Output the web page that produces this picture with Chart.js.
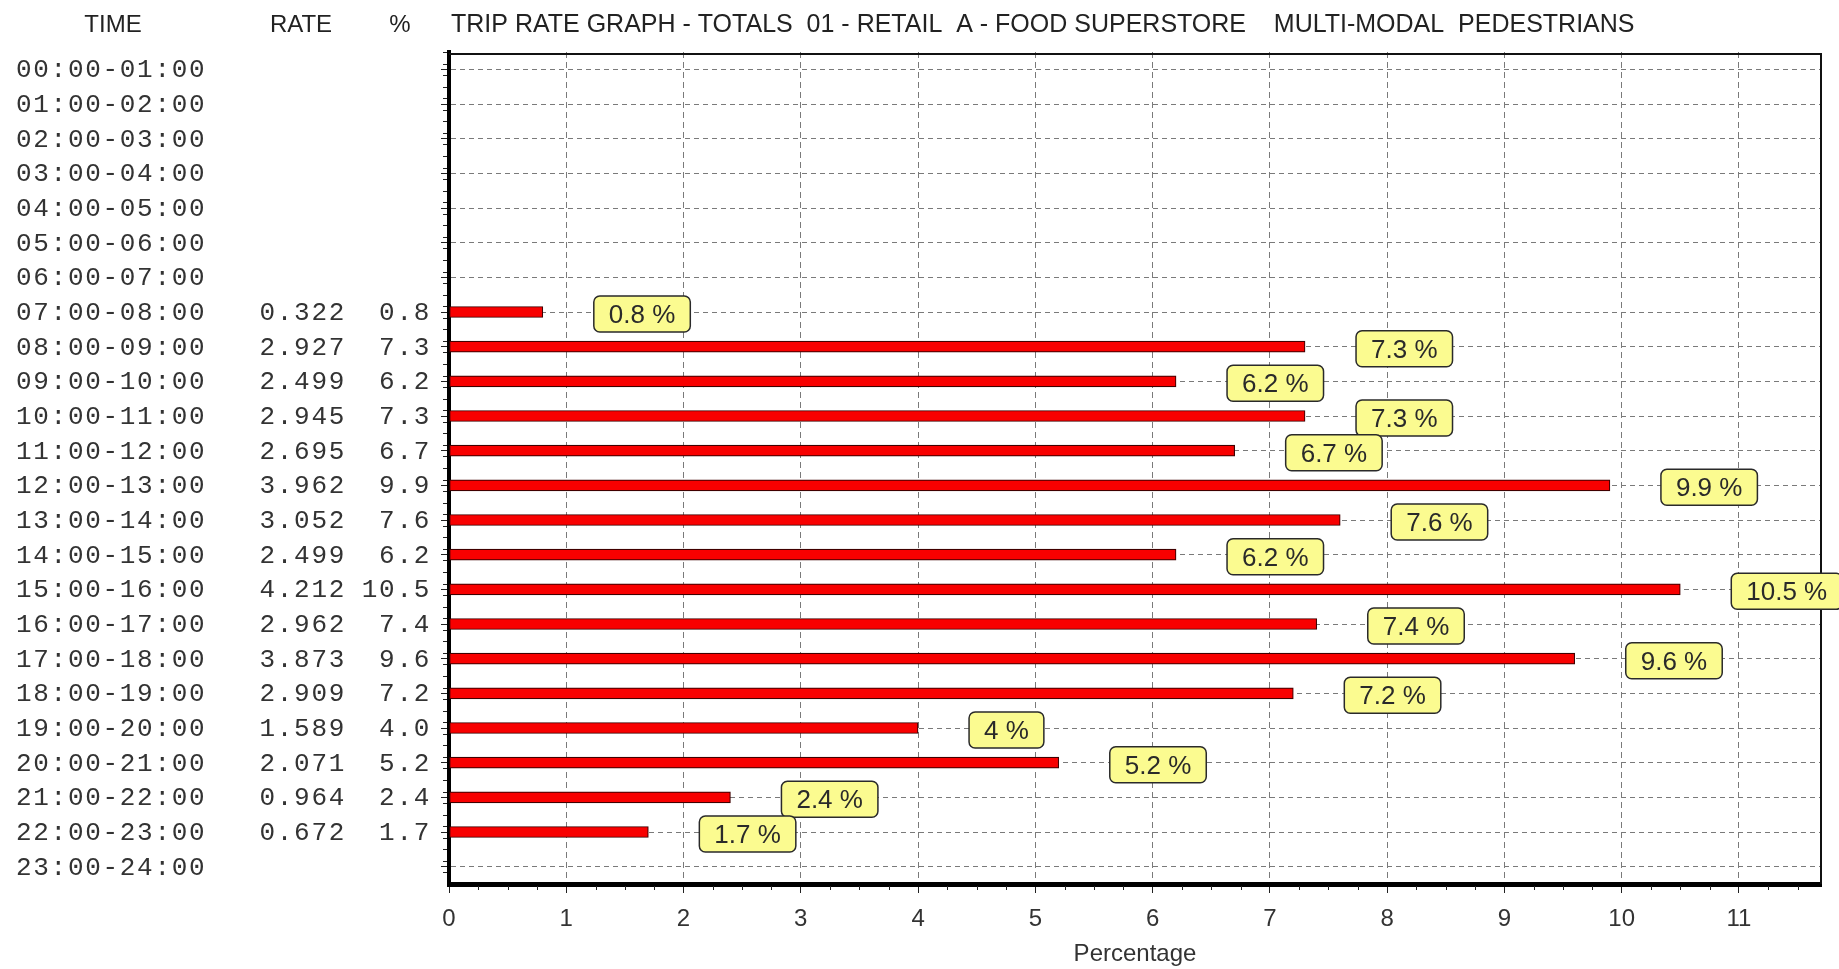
<!DOCTYPE html>
<html lang="en">
<head>
  <meta charset="UTF-8">
  <title>Trip Rate Graph - Multi-Modal Pedestrians</title>
  <script src="https://cdn.jsdelivr.net/npm/chart.js"></script>
  <style>
    html, body { margin: 0; padding: 0; background: #fff; }
    #grafico { display: block; }
  </style>
</head>
<body>
  <canvas id="grafico" width="1839" height="969"></canvas>

  <script>
    const horas = [
      '00:00-01:00', '01:00-02:00', '02:00-03:00', '03:00-04:00', '04:00-05:00', '05:00-06:00',
      '06:00-07:00', '07:00-08:00', '08:00-09:00', '09:00-10:00', '10:00-11:00', '11:00-12:00',
      '12:00-13:00', '13:00-14:00', '14:00-15:00', '15:00-16:00', '16:00-17:00', '17:00-18:00',
      '18:00-19:00', '19:00-20:00', '20:00-21:00', '21:00-22:00', '22:00-23:00', '23:00-24:00'
    ];
    const tasas = [null, null, null, null, null, null, null,
      0.322, 2.927, 2.499, 2.945, 2.695, 3.962, 3.052, 2.499, 4.212,
      2.962, 3.873, 2.909, 1.589, 2.071, 0.964, 0.672, null];
    const porcentajes = [null, null, null, null, null, null, null,
      0.8, 7.3, 6.2, 7.3, 6.7, 9.9, 7.6, 6.2, 10.5,
      7.4, 9.6, 7.2, 4.0, 5.2, 2.4, 1.7, null];
    const titulo = 'TRIP RATE GRAPH - TOTALS  01 - RETAIL  A - FOOD SUPERSTORE    MULTI-MODAL  PEDESTRIANS';
    const ejeX = 'Percentage';

    const MONO = '"Liberation Mono", "DejaVu Sans Mono", monospace';
    const SANS = '"Liberation Sans", Arial, sans-serif';

    // frame, value boxes, side columns and small ticks
    const extras = {
      id: 'extras',
      beforeDatasetsDraw(chart) {
        const { ctx, chartArea: a } = chart;
        ctx.save();
        ctx.strokeStyle = '#111';
        ctx.lineWidth = 2;
        ctx.beginPath();
        ctx.moveTo(a.left, a.top + 2);
        ctx.lineTo(a.right, a.top + 2);
        ctx.lineTo(a.right, a.bottom);
        ctx.stroke();
        ctx.restore();
      },
      afterDatasetsDraw(chart) {
        const ctx = chart.ctx;
        const meta = chart.getDatasetMeta(0);
        ctx.save();
        ctx.font = '26px ' + SANS;
        meta.data.forEach((bar, i) => {
          const v = porcentajes[i];
          if (v == null) return;
          const txt = v + ' %';
          const w = ctx.measureText(txt).width + 30;
          const h = 36;
          const x = bar.x + 51;
          const y = bar.y + 2 - h / 2;
          ctx.beginPath();
          ctx.roundRect(x, y, w, h, 6);
          ctx.fillStyle = '#fbfb90';
          ctx.fill();
          ctx.lineWidth = 1.5;
          ctx.strokeStyle = '#2a2a2a';
          ctx.stroke();
          ctx.fillStyle = '#2a2a2a';
          ctx.textAlign = 'center';
          ctx.textBaseline = 'alphabetic';
          ctx.fillText(txt, x + w / 2, bar.y + 11);
        });
        ctx.restore();
      },
      afterDraw(chart) {
        const { ctx, chartArea: a } = chart;
        const ys = chart.scales.y;
        const xs = chart.scales.x;
        ctx.save();

        // header line
        ctx.fillStyle = '#222';
        ctx.textBaseline = 'alphabetic';
        ctx.font = '24px ' + SANS;
        ctx.textAlign = 'center';
        ctx.fillText('TIME', 113, 32);
        ctx.fillText('RATE', 301, 32);
        ctx.fillText('%', 400, 32);
        ctx.textAlign = 'left';
        ctx.font = '25px ' + SANS;
        ctx.fillText(titulo, 451, 32, 1191);

        // time / rate / % columns
        ctx.font = '26px ' + MONO;
        ctx.letterSpacing = '1.7px';
        ctx.fillStyle = '#333';
        horas.forEach((h, i) => {
          const y = ys.getPixelForValue(i) + 8;
          ctx.textAlign = 'left';
          ctx.fillText(h, 16, y);
          if (tasas[i] != null) {
            ctx.textAlign = 'right';
            ctx.fillText(tasas[i].toFixed(3), 346, y);
            ctx.fillText(porcentajes[i].toFixed(1), 431, y);
          }
        });
        ctx.letterSpacing = '0px';

        // minor ticks
        ctx.strokeStyle = '#222';
        ctx.lineWidth = 1;
        ctx.beginPath();
        for (let v = 0.25; v < xs.max; v += 0.25) {
          if (Math.abs(v - Math.round(v)) < 0.01) continue;
          const px = Math.round(xs.getPixelForValue(v)) + 0.5;
          ctx.moveTo(px, a.bottom + 2);
          ctx.lineTo(px, a.bottom + 6);
        }
        for (let i = -0.5; i < horas.length; i += 1 / 3) {
          const py = Math.round(ys.getPixelForValue(i)) + 0.5;
          if (py < a.top || py > a.bottom) continue;
          ctx.moveTo(a.left - 6, py);
          ctx.lineTo(a.left - 2, py);
        }
        ctx.stroke();
        ctx.restore();
      }
    };

    const ctx = document.getElementById('grafico').getContext('2d');
    const chart = new Chart(ctx, {
      type: 'bar',
      data: {
        labels: horas,
        datasets: [{
          data: porcentajes,
          backgroundColor: '#f80000',
          borderColor: '#400000',
          borderWidth: 1.2,
          borderSkipped: false,
          barThickness: 11
        }]
      },
      options: {
        indexAxis: 'y',
        responsive: false,
        animation: false,
        devicePixelRatio: 1,
        layout: { padding: { left: 0, top: 52, right: 18, bottom: 0 } },
        scales: {
          y: {
            afterFit(s) { s.width = 449; },
            ticks: { display: false },
            grid: {
              offset: false,
              color: '#7a7a7a',
              lineWidth: 1,
              drawTicks: true,
              tickLength: 8,
              tickColor: '#222',
              tickBorderDash: [],
              tickWidth: 1
            },
            border: { color: '#000', width: 4, dash: [5, 4] }
          },
          x: {
            min: 0,
            max: 11.7,
            afterFit(s) { s.height = 85; },
            ticks: {
              stepSize: 1,
              includeBounds: false,
              color: '#333',
              font: { family: SANS, size: 24 },
              padding: 12
            },
            grid: {
              color: '#7a7a7a',
              lineWidth: 1,
              drawTicks: true,
              tickLength: 9,
              tickColor: '#222',
              tickBorderDash: [],
              tickWidth: 1
            },
            border: { color: '#000', width: 5, dash: [6, 4] },
            title: {
              display: true,
              text: ejeX,
              color: '#333',
              font: { family: SANS, size: 24 },
              padding: { top: 2, bottom: 0 }
            }
          }
        },
        plugins: {
          legend: { display: false },
          tooltip: { enabled: false }
        }
      },
      plugins: [extras]
    });
  </script>
</body>
</html>
